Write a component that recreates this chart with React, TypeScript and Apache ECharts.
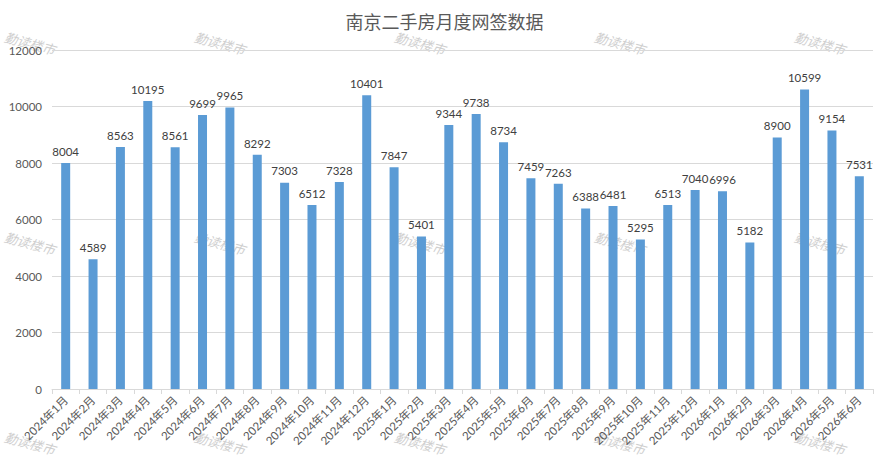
import React, { useEffect, useRef } from "react";
import * as echarts from "echarts";

const months: string[] = [
  "2024年1月", "2024年2月", "2024年3月", "2024年4月", "2024年5月", "2024年6月",
  "2024年7月", "2024年8月", "2024年9月", "2024年10月", "2024年11月", "2024年12月",
  "2025年1月", "2025年2月", "2025年3月", "2025年4月", "2025年5月", "2025年6月",
  "2025年7月", "2025年8月", "2025年9月", "2025年10月", "2025年11月", "2025年12月",
  "2026年1月", "2026年2月", "2026年3月", "2026年4月", "2026年5月", "2026年6月",
];

const signings: number[] = [
  8004, 4589, 8563, 10195, 8561, 9699, 9965, 8292, 7303, 6512, 7328, 10401,
  7847, 5401, 9344, 9738, 8734, 7459, 7263, 6388, 6481, 5295, 6513, 7040,
  6996, 5182, 8900, 10599, 9154, 7531,
];

const titleText = "南京二手房月度网签数据";
const watermarkText = "勤读楼市";
const watermarkXs: number[] = [30, 220, 420, 620, 820];
const watermarkYs: number[] = [43, 243, 443];

const FONT = "Lato, 'Noto Sans CJK SC', sans-serif";

export default function App() {
  const ref = useRef<HTMLDivElement>(null);
  useEffect(() => {
    document.body.style.margin = "0";
    if (!ref.current) return;
    const chart = echarts.init(ref.current, undefined, { renderer: "svg" });
    const marks: any[] = [];
    watermarkYs.forEach((y) =>
      watermarkXs.forEach((x) =>
        marks.push({
          type: "text",
          x,
          y,
          rotation: -0.26,
          z: -10,
          style: {
            text: watermarkText,
            fill: "#cfcfcf",
            font: "italic 13px 'Noto Sans CJK SC', sans-serif",
            align: "center",
            verticalAlign: "middle",
          },
        })
      )
    );
    chart.setOption({
      animation: false,
      backgroundColor: "#ffffff",
      textStyle: { fontFamily: FONT },
      title: {
        text: titleText,
        left: "center",
        top: 7,
        textStyle: {
          fontSize: 18,
          fontWeight: "normal",
          color: "#595959",
          fontFamily: "'Noto Sans CJK SC', sans-serif",
        },
      },
      graphic: { elements: marks },
      grid: { left: 52, right: 16, top: 50, bottom: 70, containLabel: false },
      xAxis: {
        type: "category",
        data: months,
        axisLine: { lineStyle: { color: "#d9d9d9" } },
        axisTick: { show: true, length: 5, lineStyle: { color: "#d9d9d9" } },
        axisLabel: {
          rotate: 45,
          interval: 0,
          fontSize: 11.5,
          color: "#595959",
          margin: 9,
          fontFamily: FONT,
        },
      },
      yAxis: {
        type: "value",
        min: 0,
        max: 12000,
        interval: 2000,
        axisLine: { show: false },
        axisTick: { show: false },
        axisLabel: {
          fontSize: 11.5,
          color: "#595959",
          margin: 10,
          fontFamily: FONT,
          formatter: (v: number) => String(v),
        },
        splitLine: { lineStyle: { color: "#d9d9d9" } },
      },
      series: [
        {
          type: "bar",
          data: signings,
          barWidth: 9,
          itemStyle: { color: "#5b9bd5" },
          label: {
            show: true,
            position: "top",
            distance: 6,
            fontSize: 11.5,
            color: "#404040",
            fontFamily: FONT,
          },
          z: 5,
        },
      ],
    });
    return () => chart.dispose();
  }, []);
  return <div ref={ref} style={{ width: 889, height: 459 }} />;
}
